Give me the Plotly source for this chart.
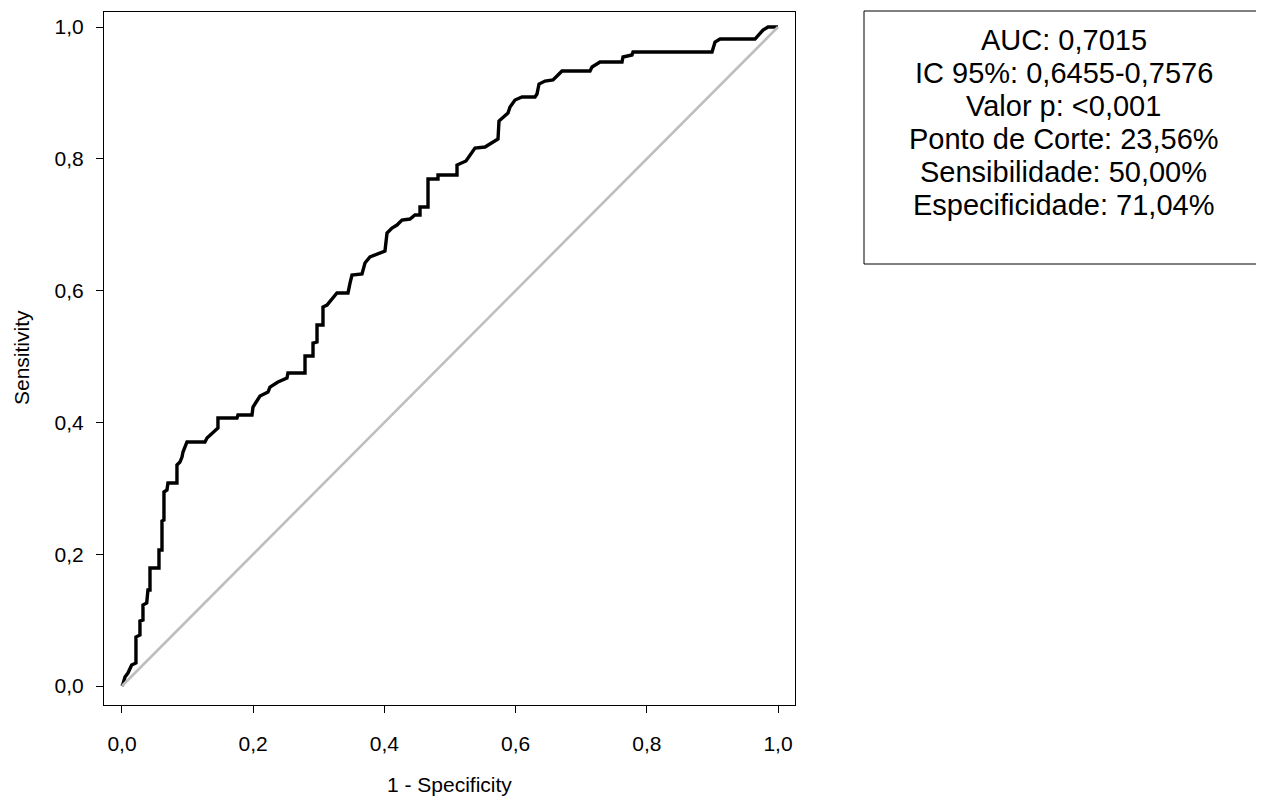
import plotly.graph_objects as go

# ROC curve values (1 - specificity, sensitivity)
fpr = [0.0, 0.0015, 0.0046, 0.0091, 0.0148, 0.0213, 0.0213, 0.0274, 0.0274, 0.032,
       0.032, 0.0377, 0.0396, 0.0427, 0.0427, 0.0564, 0.0564, 0.061, 0.061, 0.064,
       0.064, 0.0686, 0.0701, 0.0838, 0.0838, 0.0884, 0.0915, 0.093, 0.0991, 0.1265,
       0.1296, 0.1387, 0.1463, 0.1463, 0.1753, 0.1768, 0.1982, 0.1997, 0.2104, 0.2226,
       0.2256, 0.2378, 0.2515, 0.2530, 0.279, 0.279, 0.2912, 0.2912, 0.2973, 0.2973,
       0.3064, 0.3064, 0.3125, 0.3277, 0.3445, 0.3476, 0.3506, 0.3659, 0.3704, 0.378,
       0.3933, 0.4009, 0.404, 0.4116, 0.4192, 0.4268, 0.439, 0.4466, 0.4543, 0.4543,
       0.4665, 0.4665, 0.4817, 0.4817, 0.5107, 0.5107, 0.5244, 0.5305, 0.5381, 0.5534,
       0.5732, 0.5747, 0.5808, 0.5884, 0.5915, 0.5991, 0.6098, 0.6296, 0.6326, 0.6357,
       0.6448, 0.657, 0.6677, 0.6707, 0.7134, 0.7165, 0.7287, 0.7622, 0.7637, 0.7774,
       0.779, 0.8994, 0.904, 0.9116, 0.9649, 0.9726, 0.9771, 0.9848, 1.0]
tpr = [0.0, 0.003, 0.0137, 0.0197, 0.0319, 0.0349, 0.0744, 0.0774, 0.0986, 0.1002,
       0.1229, 0.126, 0.1457, 0.1457, 0.179, 0.179, 0.2064, 0.2064, 0.2504, 0.2519,
       0.2944, 0.2974, 0.308, 0.308, 0.3354, 0.3399, 0.3475, 0.3551, 0.3703, 0.3703,
       0.3763, 0.3854, 0.3915, 0.4067, 0.4067, 0.4112, 0.4112, 0.4234, 0.4401, 0.4461,
       0.4537, 0.4613, 0.4674, 0.475, 0.475, 0.5008, 0.5008, 0.5205, 0.522, 0.5478,
       0.5478, 0.5751, 0.5781, 0.5964, 0.5964, 0.6115, 0.6237, 0.6252, 0.6419, 0.651,
       0.6571, 0.6601, 0.6874, 0.695, 0.6995, 0.7071, 0.7086, 0.7147, 0.7147, 0.7269,
       0.7269, 0.7693, 0.7693, 0.7754, 0.7754, 0.7906, 0.7967, 0.8058, 0.8164, 0.8179,
       0.83, 0.8574, 0.8634, 0.8695, 0.8786, 0.8892, 0.8938, 0.8938, 0.8983, 0.9135,
       0.918, 0.9196, 0.9302, 0.9332, 0.9332, 0.9393, 0.9469, 0.9469, 0.9545, 0.9575,
       0.9621, 0.9621, 0.9772, 0.9818, 0.9818, 0.9909, 0.9954, 1.0, 1.0]

ref_x = [0, 1]
ref_y = [0, 1]

tick_vals = [0.0, 0.2, 0.4, 0.6, 0.8, 1.0]
tick_text = ["0,0", "0,2", "0,4", "0,6", "0,8", "1,0"]

stats_lines = [
    "AUC: 0,7015",
    "IC 95%: 0,6455-0,7576",
    "Valor p: <0,001",
    "Ponto de Corte: 23,56%",
    "Sensibilidade: 50,00%",
    "Especificidade: 71,04%",
]

FONT = "Liberation Sans, Arial, sans-serif"
OFF = 8  # page body margin in the browser
W, H = 1264 - OFF, 800 - OFF
# plot area in screen pixels
L, R, T, B = 104 - OFF, 795 - OFF, 12 - OFF, 705 - OFF


def px_x(p):
    return (p - OFF - L) / (R - L)


def px_y(p):
    return (B - (p - OFF)) / (B - T)


fig = go.Figure()
fig.add_trace(go.Scatter(x=fpr, y=tpr, mode="lines",
                         line=dict(color="black", width=3.4),
                         hoverinfo="skip", showlegend=False))
fig.add_trace(go.Scatter(x=ref_x, y=ref_y, mode="lines",
                         line=dict(color="#BEBEBE", width=2.6),
                         hoverinfo="skip", showlegend=False))

axis_common = dict(
    showgrid=False, zeroline=False, showline=True, linecolor="black",
    linewidth=1, mirror=True, ticks="outside", ticklen=7, tickwidth=1,
    tickcolor="black", tickvals=tick_vals, ticktext=tick_text,
    tickfont=dict(family=FONT, size=21, color="black"),
)

fig.update_xaxes(range=[-0.0274, 1.0259], ticklabelstandoff=13, **axis_common)
fig.update_yaxes(range=[-0.0288, 1.0228], ticklabelstandoff=8, **axis_common)

annotations = []
for i, line in enumerate(stats_lines):
    annotations.append(dict(
        text=line, xref="paper", yref="paper",
        x=px_x(1063.5), y=px_y(40 + 33 * i),
        xanchor="center", yanchor="middle", showarrow=False,
        font=dict(family=FONT, size=29, color="black"),
    ))
annotations.append(dict(
    text="Sensitivity", xref="paper", yref="paper",
    x=px_x(21), y=px_y(358), xanchor="center", yanchor="middle",
    textangle=-90, showarrow=False,
    font=dict(family=FONT, size=21, color="black"),
))
annotations.append(dict(
    text="1 - Specificity", xref="paper", yref="paper",
    x=px_x(449.5), y=px_y(784), xanchor="center", yanchor="middle",
    showarrow=False,
    font=dict(family=FONT, size=21, color="black"),
))

fig.update_layout(
    width=W, height=H,
    margin=dict(l=L, r=W - R, t=T, b=H - B, pad=0),
    plot_bgcolor="white", paper_bgcolor="white",
    annotations=annotations,
    shapes=[dict(type="rect", xref="paper", yref="paper",
                 x0=px_x(864), x1=px_x(1262.5), y0=px_y(264), y1=px_y(11),
                 line=dict(color="black", width=1), fillcolor="rgba(0,0,0,0)")],
)

fig.write_html("out.html")
